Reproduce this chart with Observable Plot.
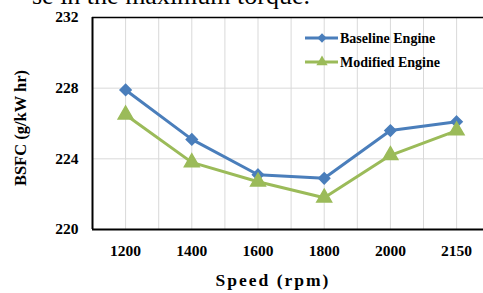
<!DOCTYPE html>
<html>
<head>
<meta charset="utf-8">
<script src="https://cdn.jsdelivr.net/npm/d3@7"></script>
<script src="https://cdn.jsdelivr.net/npm/@observablehq/plot@0.6"></script>
<style>
  html, body { margin: 0; padding: 0; background: #fff; }
  #chart { position: relative; width: 483px; height: 293px; overflow: hidden; }
  svg { font-family: "Liberation Serif", "Times New Roman", serif; }
</style>
</head>
<body>
<div id="chart"></div>
<script>
const speeds = ["1200", "1400", "1600", "1800", "2000", "2150"];
const baseline = [227.9, 225.1, 223.1, 222.9, 225.6, 226.1];
const modified = [226.5, 223.8, 222.7, 221.8, 224.2, 225.6];
const yTicks = [220, 224, 228, 232];
const seriesNames = ["Baseline Engine", "Modified Engine"];
const seriesColors = ["#4a7ebb", "#9bbb59"];
const seriesSymbols = ["diamond2", "triangle"];
const xLabel = "Speed (rpm)";
const yLabel = "BSFC (g/kW hr)";
const topText = "se in the maximum torque.";

const rows = [];
speeds.forEach((s, i) => {
  rows.push({i, speed: s, value: baseline[i], series: seriesNames[0]});
  rows.push({i, speed: s, value: modified[i], series: seriesNames[1]});
});
const gridX = d3.range(0, speeds.length * 2 - 1).map(k => k / 2);
const fontBold = {fontWeight: "bold"};

const plot = Plot.plot({
  width: 483,
  height: 293,
  marginLeft: 92,
  marginRight: 0,
  marginTop: 17,
  marginBottom: 64,
  style: {fontFamily: "Liberation Serif, Times New Roman, serif", background: "#fff", overflow: "visible"},
  x: {type: "linear", domain: [-0.5, 5.406], axis: null},
  y: {domain: [220, 232], axis: null},
  color: {domain: seriesNames, range: seriesColors},
  symbol: {domain: seriesNames, range: seriesSymbols},
  marks: [
    Plot.ruleX(gridX, {x: d => d, y1: 220, y2: 232, stroke: "#d9d9d9", strokeWidth: 1}),
    Plot.ruleY(yTicks.filter(t => t > 220 && t < 232), {y: d => d, stroke: "#d9d9d9", strokeWidth: 1}),
    Plot.ruleY([220], {stroke: "#000", strokeWidth: 2}),
    Plot.ruleY([232], {stroke: "#000", strokeWidth: 1.5}),
    Plot.ruleX([-0.5], {y1: 220, y2: 232, stroke: "#000", strokeWidth: 2}),
    Plot.axisY(yTicks, {tickSize: 0, tickPadding: 14, fontSize: 15.5, ...fontBold, fill: "#000", label: null}),
    Plot.axisX(d3.range(speeds.length), {tickSize: 0, tickPadding: 15, fontSize: 15.5, ...fontBold, fill: "#000", tickFormat: i => speeds[i], label: null}),
    Plot.line(rows, {x: "i", y: "value", z: "series", stroke: "series", strokeWidth: 3}),
    Plot.dot(rows.filter(d => d.series === seriesNames[0]), {x: "i", y: "value", symbol: "series", fill: "series", stroke: "series", r: 5}),
    Plot.dot(rows.filter(d => d.series === seriesNames[1]), {x: "i", y: "value", symbol: "series", fill: "series", stroke: "series", r: 5.5})
  ]
});

const svg = d3.select(plot);
// axis titles
svg.append("text")
  .attr("x", 273).attr("y", 286)
  .attr("text-anchor", "middle")
  .attr("font-size", 17.5).attr("font-weight", "bold")
  .attr("letter-spacing", 2)
  .text(xLabel);
svg.append("text")
  .attr("transform", "translate(26,128) rotate(-90)")
  .attr("text-anchor", "middle")
  .attr("font-size", 16.5).attr("font-weight", "bold")
  .text(yLabel);
// partial caption text at top
svg.append("text")
  .attr("x", 310).attr("y", 4)
  .attr("text-anchor", "end")
  .attr("font-size", 26)
  .text(topText);
// legend
const leg = svg.append("g");
const symGen = {diamond2: d3.symbolDiamond2, triangle: d3.symbolTriangle};
seriesNames.forEach((name, k) => {
  const y = 38 + k * 24;
  leg.append("line").attr("x1", 305).attr("x2", 338).attr("y1", y).attr("y2", y)
    .attr("stroke", seriesColors[k]).attr("stroke-width", 3);
  leg.append("path").attr("d", d3.symbol(symGen[seriesSymbols[k]], 55)())
    .attr("transform", `translate(322,${y})`).attr("fill", seriesColors[k]);
  leg.append("text").attr("x", 340).attr("y", y + 4.5)
    .attr("text-anchor", "start")
    .attr("font-size", 14).attr("font-weight", "bold").text(name);
});

document.getElementById("chart").appendChild(plot);
</script>
</body>
</html>
